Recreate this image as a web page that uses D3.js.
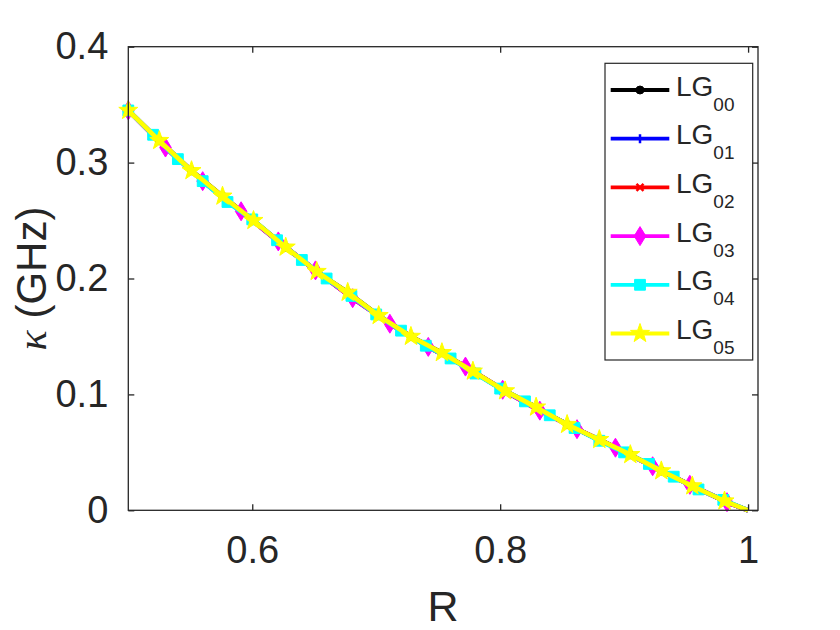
<!DOCTYPE html>
<html>
<head>
<meta charset="utf-8">
<script src="https://cdn.jsdelivr.net/npm/d3@7"></script>
<style>
  html, body { margin: 0; padding: 0; background: #fff; }
  svg { display: block; }
  text { font-family: "Liberation Sans", Arial, Helvetica, sans-serif; fill: #262626; }
</style>
</head>
<body>
<svg id="chart" width="840" height="630"></svg>
<script>
// ---- data ----
const seriesNames = ["00", "01", "02", "03", "04", "05"];
const seriesColors = ["#000000", "#0000ff", "#ff0000", "#ff00ff", "#00ffff", "#ffff00"];
const seriesMarkers = ["circle", "plus", "cross", "diamond", "square", "star"];

// sampling grids of R (marker positions); last point of each is the line end
const R_gridA = [0.500,0.525,0.551,0.576,0.601,0.627,0.652,0.677,0.702,0.728,0.753,0.778,0.804,0.829,0.854,0.880,0.905,0.930,0.955,0.981,1.000];
const R_gridB = [0.500,0.530,0.560,0.591,0.621,0.651,0.681,0.711,0.742,0.772,0.802,0.832,0.862,0.893,0.923,0.953,0.983,1.000];
const R_gridC = [0.50,0.52,0.54,0.56,0.58,0.60,0.62,0.64,0.66,0.68,0.70,0.72,0.74,0.76,0.78,0.80,0.82,0.84,0.86,0.88,0.90,0.92,0.94,0.96,0.98,1.00];

const kappa_LG00 = [0.345,0.319,0.293,0.271,0.250,0.227,0.206,0.188,0.168,0.150,0.136,0.120,0.103,0.089,0.074,0.061,0.048,0.034,0.021,0.008,0.000];
const kappa_LG01 = [0.345,0.313,0.284,0.258,0.232,0.207,0.183,0.161,0.141,0.124,0.104,0.086,0.070,0.054,0.038,0.022,0.007,0.000];
const kappa_LG02 = [0.345,0.313,0.284,0.258,0.232,0.207,0.183,0.161,0.141,0.124,0.104,0.086,0.070,0.054,0.038,0.022,0.007,0.000];
const kappa_LG03 = [0.345,0.313,0.284,0.258,0.232,0.207,0.183,0.161,0.141,0.124,0.104,0.086,0.070,0.054,0.038,0.022,0.007,0.000];
const kappa_LG04 = [0.345,0.324,0.303,0.284,0.266,0.251,0.233,0.216,0.200,0.185,0.169,0.155,0.142,0.131,0.118,0.105,0.094,0.082,0.071,0.060,0.050,0.040,0.029,0.018,0.009,0.000];
const kappa_LG05 = [0.345,0.319,0.293,0.271,0.250,0.227,0.206,0.188,0.168,0.150,0.136,0.120,0.103,0.089,0.074,0.061,0.048,0.034,0.021,0.008,0.000];

const seriesR = [R_gridA, R_gridB, R_gridB, R_gridB, R_gridC, R_gridA];
const seriesK = [kappa_LG00, kappa_LG01, kappa_LG02, kappa_LG03, kappa_LG04, kappa_LG05];

const xTicks = [0.6, 0.8, 1];
const xTickLabels = ["0.6", "0.8", "1"];
const yTicks = [0, 0.1, 0.2, 0.3, 0.4];
const yTickLabels = ["0", "0.1", "0.2", "0.3", "0.4"];

// ---- layout ----
const svg = d3.select("#chart");
const L = 128.3, R = 758, T = 46.7, B = 510.3;
const x = d3.scaleLinear().domain([0.5, 1.008]).range([L, R]);
const y = d3.scaleLinear().domain([0, 0.4]).range([B, T]);
const axisColor = "#262626";

svg.append("rect").attr("x", L).attr("y", T).attr("width", R - L).attr("height", B - T)
  .attr("fill", "#fff");

function markerPath(type) {
  switch (type) {
    case "circle": return d3.symbol(d3.symbolCircle, 50)();
    case "square": { const s = 5.4; return `M${-s},${-s}H${s}V${s}H${-s}Z`; }
    case "diamond": { const w = 5.8, h = 9.5; return `M0,${-h}L${w},0L0,${h}L${-w},0Z`; }
    case "plus": { const s = 4.5; return `M${-s},0H${s}M0,${-s}V${s}`; }
    case "cross": { const s = 3.5; return `M${-s},${-s}L${s},${s}M${-s},${s}L${s},${-s}`; }
    case "star": {
      const ro = 10, ri = 4; let p = "";
      for (let i = 0; i < 10; i++) {
        const r = i % 2 === 0 ? ro : ri;
        const a = -Math.PI / 2 + i * Math.PI / 5;
        p += (i === 0 ? "M" : "L") + (r * Math.cos(a)).toFixed(2) + "," + (r * Math.sin(a)).toFixed(2);
      }
      return p + "Z";
    }
  }
}
function drawMarker(g, type, color, cx, cy) {
  const open = (type === "plus" || type === "cross");
  g.append("path").attr("d", markerPath(type))
    .attr("transform", `translate(${cx},${cy})`)
    .attr("fill", open ? "none" : color)
    .attr("stroke", color)
    .attr("stroke-width", open ? 2.5 : 1)
    .attr("stroke-linejoin", "miter");
}

const plotG = svg.append("g");
const line = d3.line().x(d => x(d[0])).y(d => y(d[1]));
seriesNames.forEach((name, i) => {
  const pts = seriesR[i].map((r, j) => [r, seriesK[i][j]]);
  const g = plotG.append("g");
  g.append("path").datum(pts).attr("d", line)
    .attr("fill", "none").attr("stroke", seriesColors[i])
    .attr("stroke-width", 4.6).attr("stroke-linejoin", "round");
  pts.slice(0, -1).forEach(p => drawMarker(g, seriesMarkers[i], seriesColors[i], x(p[0]), y(p[1])));
});

svg.append("rect").attr("x", L).attr("y", T).attr("width", R - L).attr("height", B - T)
  .attr("fill", "none").attr("stroke", axisColor).attr("stroke-width", 1.3);

const tickLen = 6;
const xAxisB = d3.axisBottom(x).tickValues(xTicks).tickFormat((d, i) => xTickLabels[i]).tickSizeInner(-tickLen).tickSizeOuter(0).tickPadding(26);
const gxb = svg.append("g").attr("transform", `translate(0,${B})`).call(xAxisB);
gxb.select(".domain").remove();
gxb.selectAll("line").attr("stroke", axisColor).attr("stroke-width", 1.3);
gxb.selectAll("text").attr("font-size", 38).attr("fill", axisColor)
  .style("font-family", '"Liberation Sans", Arial, sans-serif');

const xAxisT = d3.axisTop(x).tickValues(xTicks).tickFormat("").tickSizeInner(-tickLen).tickSizeOuter(0);
const gxt = svg.append("g").attr("transform", `translate(0,${T})`).call(xAxisT);
gxt.select(".domain").remove();
gxt.selectAll("line").attr("stroke", axisColor).attr("stroke-width", 1.3);

const yAxisL = d3.axisLeft(y).tickValues(yTicks).tickFormat((d, i) => yTickLabels[i]).tickSizeInner(-tickLen).tickSizeOuter(0).tickPadding(20);
const gyl = svg.append("g").attr("transform", `translate(${L},0)`).call(yAxisL);
gyl.select(".domain").remove();
gyl.selectAll("line").attr("stroke", axisColor).attr("stroke-width", 1.3);
gyl.selectAll("text").attr("font-size", 38).attr("fill", axisColor)
  .style("font-family", '"Liberation Sans", Arial, sans-serif');

const yAxisR = d3.axisRight(y).tickValues(yTicks).tickFormat("").tickSizeInner(-tickLen).tickSizeOuter(0);
const gyr = svg.append("g").attr("transform", `translate(${R},0)`).call(yAxisR);
gyr.select(".domain").remove();
gyr.selectAll("line").attr("stroke", axisColor).attr("stroke-width", 1.3);

svg.append("text").attr("x", (L + R) / 2).attr("y", 621).attr("text-anchor", "middle")
  .attr("font-size", 43).text("R");
const yl = svg.append("text").attr("transform", `translate(46,${(T + B) / 2}) rotate(-90)`)
  .attr("text-anchor", "middle").attr("font-size", 42);
yl.append("tspan").attr("font-style", "italic").style("font-family", '"Liberation Serif", "DejaVu Serif", serif').text("κ");
yl.append("tspan").text(" (GHz)");

const lg = svg.append("g");
lg.append("rect").attr("x", 605).attr("y", 63.3).attr("width", 147.7).attr("height", 296.7)
  .attr("fill", "#fff").attr("stroke", axisColor).attr("stroke-width", 1.2);
seriesNames.forEach((name, i) => {
  const ly = 90 + i * 48.7;
  lg.append("line").attr("x1", 610.7).attr("x2", 669.3).attr("y1", ly).attr("y2", ly)
    .attr("stroke", seriesColors[i]).attr("stroke-width", 3.8);
  drawMarker(lg, seriesMarkers[i], seriesColors[i], 640, ly);
  const t = lg.append("text").attr("x", 676).attr("y", ly + 5.5).attr("font-size", 28).attr("fill", "#000");
  t.append("tspan").text("LG");
  t.append("tspan").attr("font-size", 19).attr("dy", 15).text(name);
});
</script>
</body>
</html>
